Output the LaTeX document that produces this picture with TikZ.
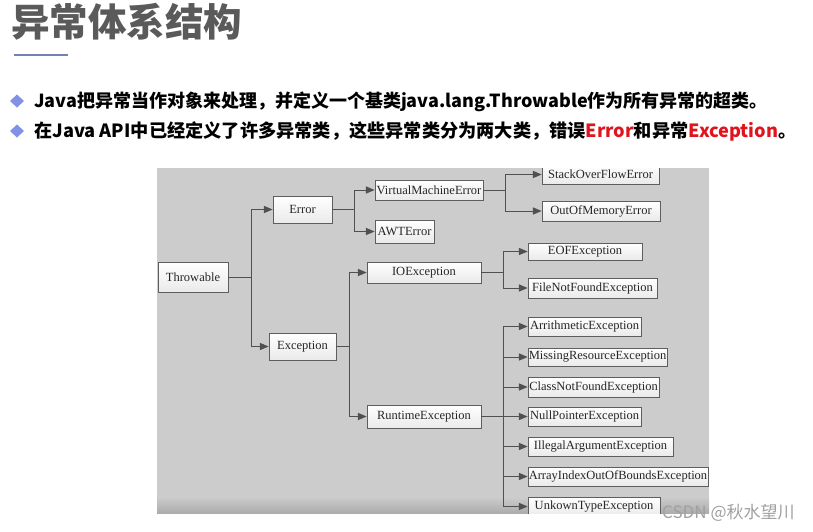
\documentclass[tikz,border=0pt]{standalone}
\usepackage{fontspec}
\setmainfont{Liberation Serif}
\newfontfamily\cjk{Noto Sans CJK SC}
\usetikzlibrary{arrows}
\definecolor{titlegray}{HTML}{5A5A5A}
\definecolor{barblue}{HTML}{7282B8}
\definecolor{bulletblue}{HTML}{8191E6}
\definecolor{errred}{HTML}{E0141E}
\definecolor{panelgray}{HTML}{CCCCCC}
\definecolor{paneldark}{HTML}{ACACAC}
\definecolor{boxgray}{HTML}{5E5E5E}
\definecolor{boxfill}{HTML}{EAEAEA}
\definecolor{linegray}{HTML}{505050}
\definecolor{wmgray}{HTML}{A0A0A0}

\begin{document}
\begin{tikzpicture}[line cap=butt,line join=miter,>=triangle 45,x=1pt,y=-1pt,
  cls/.style={draw=boxgray,line width=0.8pt,top color=white,bottom color=boxfill,
    inner sep=0pt,text=black!85,font=\fontsize{12.5}{12.5}\selectfont},
  conn/.style={->,draw=linegray,line width=1pt}]

	\useasboundingbox (0,0) rectangle (813,531);

	%标题
	\node[anchor=west,inner sep=0pt,text=titlegray,font=\cjk\bfseries\fontsize{38.5}{38.5}\selectfont] (title) at (11,22) {异常体系结构};
	\draw[line width=2.5pt,color=barblue] (14,55) -- (68,55);

	%要点
	\foreach \y in {101,131}
	{\fill[bulletblue] (10,\y) -- (17,\y-6.5) -- (24,\y) -- (17,\y+6.5) -- cycle;
	}
	\node[anchor=west,inner sep=0pt,font=\cjk\bfseries\fontsize{18}{18}\selectfont] (line1) at (34,101.5)
		{Java把异常当作对象来处理，并定义一个基类java.lang.Throwable作为所有异常的超类。};
	\node[anchor=west,inner sep=0pt,font=\cjk\bfseries\fontsize{18.2}{18.2}\selectfont] (line2) at (34,131.5)
		{在Java API中已经定义了许多异常类，这些异常类分为两大类，错误\textcolor{errred}{Error}和异常\textcolor{errred}{Exception}。};

	%灰色底板
	\fill[panelgray] (157,168) rectangle (709,513);
	\shade[top color=panelgray,bottom color=paneldark] (157,497) rectangle (709,513);

	\begin{scope}
		\clip (157,168) rectangle (709,513);

		%类
		\node[cls,minimum width=70,minimum height=30] (thr) at (193,277) {Throwable};
		\node[cls,minimum width=59,minimum height=27] (err) at (302.5,209.5) {Error};
		\node[cls,minimum width=67,minimum height=27] (exc) at (302.5,346.5) {Exception};

		\node[cls,minimum width=108,minimum height=20] (vme) at (429,190) {VirtualMachineError};
		\node[cls,minimum width=59,minimum height=23] (awt) at (404.5,231.5) {AWTError};
		\node[cls,minimum width=117,minimum height=19] (sof) at (600.5,174.5) {StackOverFlowError};
		\node[cls,minimum width=118,minimum height=20] (oom) at (601,211) {OutOfMemoryError};

		\node[cls,minimum width=114,minimum height=21] (ioe) at (424,272.5) {IOException};
		\node[cls,minimum width=114,minimum height=17] (eof) at (585,251.5) {EOFException};
		\node[cls,minimum width=129,minimum height=20] (fnf) at (592.5,288) {FileNotFoundException};

		\node[cls,minimum width=114,minimum height=23] (rte) at (424,416.5) {RuntimeException};
		\node[cls,minimum width=113,minimum height=19] (ari) at (584.5,326.5) {ArrithmeticException};
		\node[cls,minimum width=139,minimum height=18] (mis) at (597.5,357) {MissingResourceException};
		\node[cls,minimum width=131,minimum height=20] (cnf) at (593.5,387) {ClassNotFoundException};
		\node[cls,minimum width=113,minimum height=19] (npe) at (584.5,416.5) {NullPointerException};
		\node[cls,minimum width=145,minimum height=19] (iae) at (600.5,446.5) {IllegalArgumentException};
		\node[cls,minimum width=180,minimum height=19] (aio) at (618,476.5) {ArrayIndexOutOfBoundsException};
		\node[cls,minimum width=132,minimum height=19] (ute) at (594,506.5) {UnkownTypeException};

		%连线
		\foreach \n in {err,exc}
		{\draw[conn] (thr.east) -- ++(23,0) |- (\n.west);
		}
		\foreach \n in {vme,awt}
		{\draw[conn] (err.east) -- ++(22,0) |- (\n.west);
		}
		\foreach \n in {sof,oom}
		{\draw[conn] (vme.east) -- ++(22,0) |- (\n.west);
		}
		\foreach \n in {ioe,rte}
		{\draw[conn] (exc.east) -- ++(13,0) |- (\n.west);
		}
		\foreach \n in {eof,fnf}
		{\draw[conn] (ioe.east) -- ++(22,0) |- (\n.west);
		}
		\foreach \n in {ari,mis,cnf,npe,iae,aio,ute}
		{\draw[conn] (rte.east) -- ++(22,0) |- (\n.west);
		}
	\end{scope}

	%水印
	\node[anchor=west,inner sep=0pt,text=wmgray,font=\cjk\fontsize{17}{17}\selectfont] (wm) at (662,512.5) {CSDN @秋水望川};

\end{tikzpicture}
\end{document}
